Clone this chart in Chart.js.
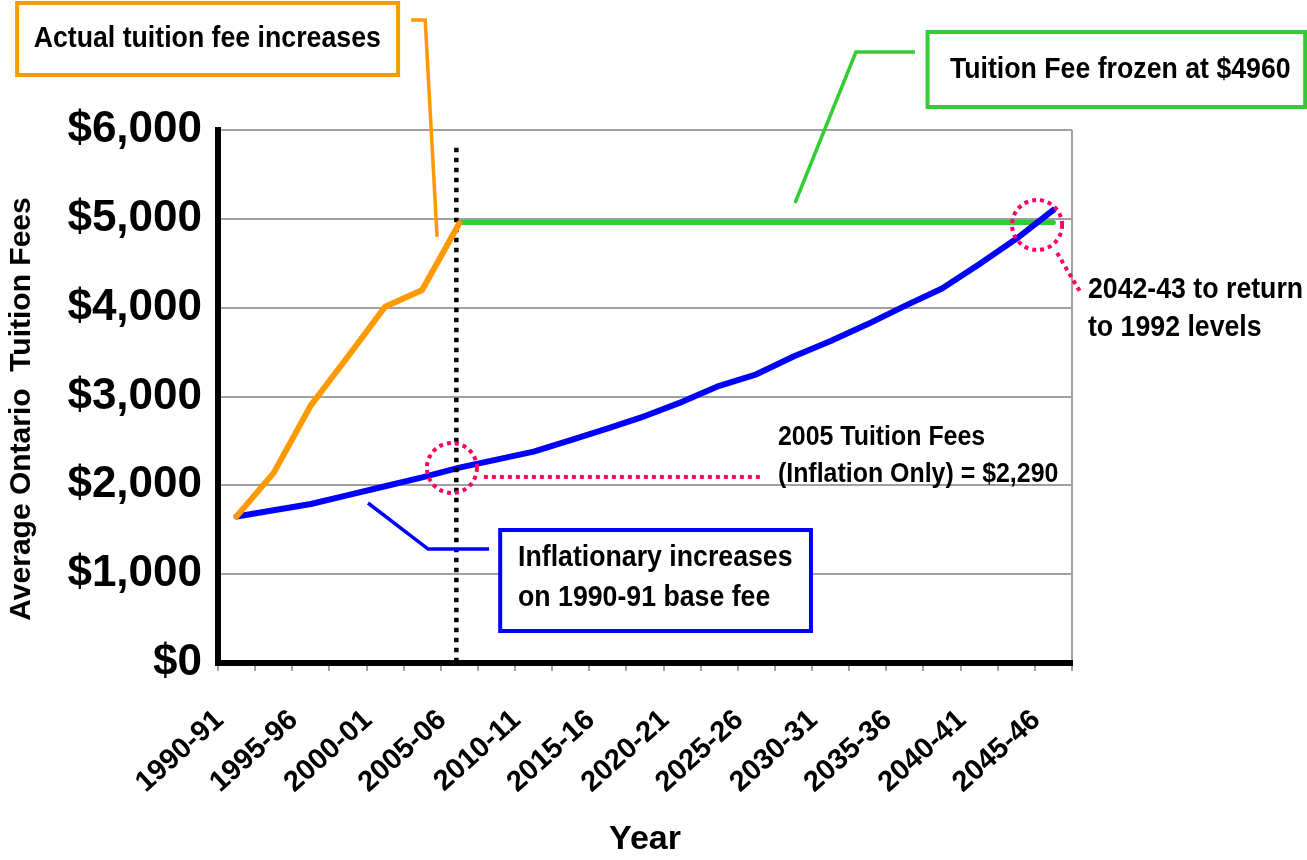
<!DOCTYPE html>
<html>
<head>
<meta charset="utf-8">
<title>Average Ontario Tuition Fees</title>
<script src="https://cdn.jsdelivr.net/npm/chart.js@4.4.1/dist/chart.umd.min.js"></script>
<style>
  html, body { margin: 0; padding: 0; background: #fff; }
  #wrap { width: 1307px; height: 860px; }
</style>
</head>
<body>
<div id="wrap"><canvas id="feesChart" width="1307" height="860"></canvas></div>
<script>
// Labelled periods on the x axis (one unlabelled step between each pair)
const periodLabels = ['1990-91', '1995-96', '2000-01', '2005-06', '2010-11', '2015-16',
  '2020-21', '2025-26', '2030-31', '2035-36', '2040-41', '2045-46'];

// Series values ($), one per step
const actualFees = [1650, 2140, 2900, 3450, 4010, 4200, 4950];
const inflationFees = [1650, 1720, 1790, 1890, 1990, 2090, 2200, 2290, 2380, 2510, 2640, 2780,
  2940, 3120, 3250, 3450, 3625, 3815, 4020, 4215, 4490, 4775, 5100];
const frozenFees = [null, null, null, null, null, null, 4960, 4960, 4960, 4960, 4960, 4960,
  4960, 4960, 4960, 4960, 4960, 4960, 4960, 4960, 4960, 4960, 4960];

const yTicks = [0, 1000, 2000, 3000, 4000, 5000, 6000];

// Colours
const ORANGE = '#FF9900';
const BLUE = '#0000FF';
const GREEN = '#33CC33';
const PINK = '#FF0066';
const GRID = '#A0A0A0';
const FONT = '"Liberation Sans", Arial, Helvetica, sans-serif';
const SQUEEZE = 0.89; // annotation text is a bit condensed

// category list: labelled period, then a blank step
const categories = [];
periodLabels.forEach((p, i) => {
  categories.push(p);
  if (i < periodLabels.length - 1) categories.push('');
});

// Annotation placements, in [step index, $ value]
const divider = { at: 5.92, from: 5800, to: 0 };

const highlights = [
  { at: [5.80, 2195], pointer: [[6.66, 2094], [14.18, 2094]] },
  { at: [21.56, 4931], pointer: [[22.10, 4616], [22.72, 4177]] }
];

const callouts = [
  {
    color: ORANGE, box: [-5.91, 7430, 4.35, 6619], align: 'center',
    lines: [[-0.79, 7025, 'Actual tuition fee increases']],
    leader: [[4.70, 7239], [5.08, 7239], [5.40, 4796]]
  },
  {
    color: GREEN, box: [18.61, 7103, 28.78, 6259], align: 'center',
    lines: [[23.80, 6676, 'Tuition Fee frozen at $4960']],
    leader: [[18.27, 6878], [16.68, 6878], [15.04, 5178]]
  },
  {
    color: BLUE, box: [7.10, 1497, 15.47, 360], align: 'left',
    lines: [[7.58, 1182, 'Inflationary increases'], [7.58, 732, 'on 1990-91 base fee']],
    leader: [[6.80, 1283], [5.16, 1283], [3.54, 1801]]
  }
];

const notes = [
  { size: 28, lines: [[14.58, 2544, '2005 Tuition Fees'], [14.58, 2128, '(Inflation Only) = $2,290']] },
  { size: 30, lines: [[22.93, 4199, '2042-43 to return'], [22.93, 3771, 'to 1992 levels']] }
];

function squeezedText(ctx, text, x, y) {
  ctx.save();
  ctx.translate(x, y);
  ctx.scale(SQUEEZE, 1);
  ctx.fillText(text, 0, 0);
  ctx.restore();
}

const annotations = {
  id: 'annotations',
  beforeDatasetDraw(chart, args) {
    // dotted 2005-06 divider sits between the blue and orange lines
    if (args.index !== 0) return;
    const { ctx, scales: { x, y } } = chart;
    ctx.save();
    ctx.strokeStyle = '#000';
    ctx.lineWidth = 4.5;
    ctx.setLineDash([4.5, 5.5]);
    ctx.beginPath();
    ctx.moveTo(x.getPixelForValue(divider.at), y.getPixelForValue(divider.from));
    ctx.lineTo(x.getPixelForValue(divider.at), y.getPixelForValue(divider.to));
    ctx.stroke();
    ctx.restore();
  },
  afterDatasetsDraw(chart) {
    const { ctx, scales: { x, y } } = chart;
    const px = v => x.getPixelForValue(v);
    const py = v => y.getPixelForValue(v);
    ctx.save();

    // pink rings + dotted pointers
    ctx.strokeStyle = PINK;
    ctx.lineWidth = 4;
    ctx.setLineDash([4, 4]);
    highlights.forEach(h => {
      ctx.beginPath();
      ctx.arc(px(h.at[0]), py(h.at[1]), 25, 0, Math.PI * 2);
      ctx.stroke();
      ctx.beginPath();
      ctx.moveTo(px(h.pointer[0][0]), py(h.pointer[0][1]));
      ctx.lineTo(px(h.pointer[1][0]), py(h.pointer[1][1]));
      ctx.stroke();
    });
    ctx.setLineDash([]);

    // callout boxes
    callouts.forEach(c => {
      const [i0, v0, i1, v1] = c.box;
      const bx = px(i0), by = py(v0), bw = px(i1) - bx, bh = py(v1) - by;
      ctx.fillStyle = '#fff';
      ctx.fillRect(bx, by, bw, bh);
      ctx.strokeStyle = c.color;
      ctx.lineWidth = 4;
      ctx.strokeRect(bx, by, bw, bh);

      ctx.lineWidth = 3.5;
      ctx.beginPath();
      c.leader.forEach(([i, v], k) => k ? ctx.lineTo(px(i), py(v)) : ctx.moveTo(px(i), py(v)));
      ctx.stroke();

      ctx.fillStyle = '#000';
      ctx.font = 'bold 30px ' + FONT;
      ctx.textAlign = c.align;
      ctx.textBaseline = 'middle';
      c.lines.forEach(([i, v, t]) => squeezedText(ctx, t, px(i), py(v)));
    });

    // plain text notes
    ctx.fillStyle = '#000';
    ctx.textAlign = 'left';
    ctx.textBaseline = 'middle';
    notes.forEach(n => {
      ctx.font = 'bold ' + n.size + 'px ' + FONT;
      n.lines.forEach(([i, v, t]) => squeezedText(ctx, t, px(i), py(v)));
    });
    ctx.restore();
  }
};

Chart.defaults.font.family = FONT;
Chart.defaults.color = '#000';

new Chart(document.getElementById('feesChart'), {
  type: 'line',
  data: {
    labels: categories,
    datasets: [
      { label: 'Actual tuition fee increases', data: actualFees, borderColor: ORANGE, borderWidth: 6 },
      { label: 'Inflationary increases on 1990-91 base fee', data: inflationFees, borderColor: BLUE, borderWidth: 6 },
      { label: 'Tuition Fee frozen at $4960', data: frozenFees, borderColor: GREEN, borderWidth: 5 }
    ]
  },
  options: {
    responsive: false,
    animation: false,
    layout: { padding: { top: 130, right: 235, bottom: 0, left: 0 } },
    elements: {
      point: { radius: 0 },
      line: { tension: 0, borderCapStyle: 'round', borderJoinStyle: 'round' }
    },
    plugins: { legend: { display: false }, tooltip: { enabled: false } },
    scales: {
      x: {
        offset: true,
        grid: {
          offset: true,
          // only the closing right-hand edge of the plot is drawn
          color: ctx => ctx.type === 'tick' ? 'transparent' : GRID,
          lineWidth: 2,
          tickLength: 8,
          tickColor: GRID,
          tickWidth: 2
        },
        border: { color: '#000', width: 6 },
        ticks: {
          autoSkip: false,
          minRotation: 42,
          maxRotation: 42,
          padding: 32,
          labelOffset: -17,
          font: { size: 29, weight: 'bold' }
        },
        title: {
          display: true,
          text: 'Year',
          font: { size: 34, weight: 'bold' },
          padding: { top: 0, bottom: 0 }
        },
        afterFit: s => { s.height = 197; }
      },
      y: {
        min: 0,
        max: 6000,
        afterBuildTicks: s => { s.ticks = yTicks.map(v => ({ value: v })); },
        ticks: {
          callback: v => '$' + v.toLocaleString('en-US'),
          padding: 16,
          font: { size: 44, weight: 'bold' }
        },
        grid: { color: GRID, lineWidth: 2, drawTicks: false },
        border: { color: '#000', width: 6 },
        title: {
          display: true,
          text: 'Average Ontario  Tuition Fees   ',
          font: { size: 30, weight: 'bold' },
          padding: { top: 4, bottom: 0 }
        },
        afterFit: s => { s.width = 218; }
      }
    }
  },
  plugins: [annotations]
});
</script>
</body>
</html>
